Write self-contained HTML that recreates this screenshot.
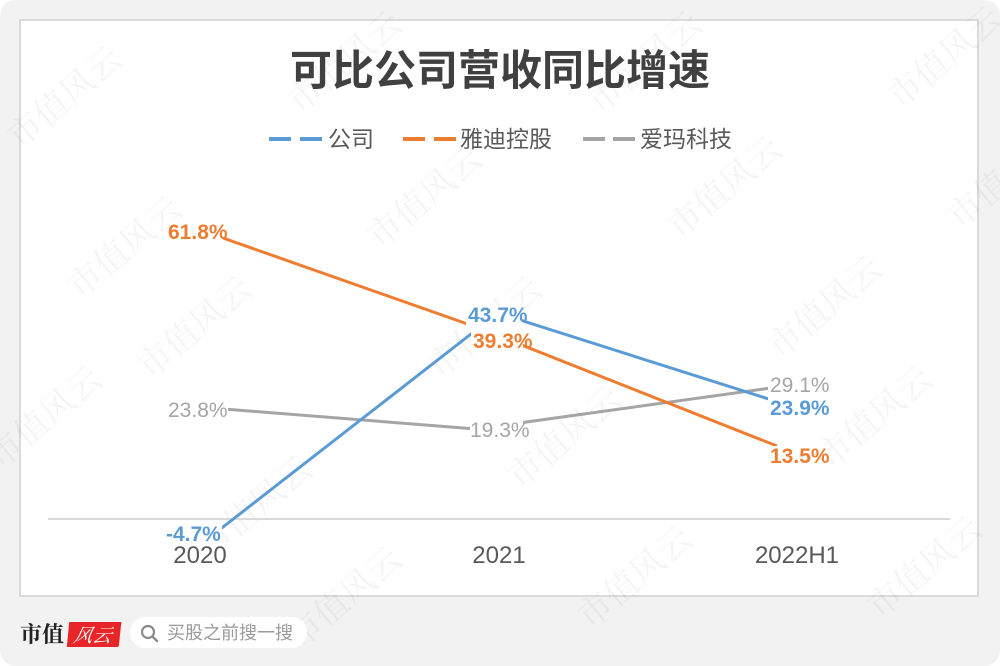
<!DOCTYPE html>
<html><head><meta charset="utf-8">
<style>
html,body{margin:0;padding:0;background:#fff;}
svg{display:block;}
</style></head>
<body>
<svg width="1000" height="666" viewBox="0 0 1000 666" xmlns="http://www.w3.org/2000/svg">
  <!-- outer panel -->
  <rect x="0" y="0" width="1000" height="666" rx="16" ry="16" fill="#f2f2f2"/>
  <!-- chart area -->
  <rect x="20" y="20" width="958" height="576" fill="#ffffff" stroke="#dadada" stroke-width="2"/>

  <!-- watermarks -->
  <g font-family="'Liberation Serif','Noto Serif CJK SC',serif" font-size="34" fill="#000" fill-opacity="0.045">
    <text transform="translate(20,150) rotate(-40)">市值风云</text>
    <text transform="translate(300,115) rotate(-40)">市值风云</text>
    <text transform="translate(600,115) rotate(-40)">市值风云</text>
    <text transform="translate(900,110) rotate(-40)">市值风云</text>
    <text transform="translate(80,300) rotate(-40)">市值风云</text>
    <text transform="translate(380,250) rotate(-40)">市值风云</text>
    <text transform="translate(680,240) rotate(-40)">市值风云</text>
    <text transform="translate(960,230) rotate(-40)">市值风云</text>
    <text transform="translate(150,380) rotate(-40)">市值风云</text>
    <text transform="translate(440,380) rotate(-40)">市值风云</text>
    <text transform="translate(780,360) rotate(-40)">市值风云</text>
    <text transform="translate(0,470) rotate(-40)">市值风云</text>
    <text transform="translate(210,560) rotate(-40)">市值风云</text>
    <text transform="translate(520,490) rotate(-40)">市值风云</text>
    <text transform="translate(830,470) rotate(-40)">市值风云</text>
    <text transform="translate(300,650) rotate(-40)">市值风云</text>
    <text transform="translate(590,630) rotate(-40)">市值风云</text>
    <text transform="translate(880,620) rotate(-40)">市值风云</text>
  </g>

  <!-- title -->
  <text x="500" y="85" text-anchor="middle" font-family="'Liberation Sans','Noto Sans CJK SC',sans-serif" font-size="42" font-weight="700" fill="#404040">可比公司营收同比增速</text>

  <!-- legend -->
  <g stroke-width="4">
    <line x1="269" y1="139" x2="291" y2="139" stroke="#5b9bd5"/>
    <line x1="300" y1="139" x2="322" y2="139" stroke="#5b9bd5"/>
    <line x1="403" y1="139" x2="425" y2="139" stroke="#ed7d31"/>
    <line x1="434" y1="139" x2="456" y2="139" stroke="#ed7d31"/>
    <line x1="583" y1="139" x2="605" y2="139" stroke="#a5a5a5"/>
    <line x1="613" y1="139" x2="635" y2="139" stroke="#a5a5a5"/>
  </g>
  <g font-family="'Liberation Sans','Noto Sans CJK SC',sans-serif" font-size="23" fill="#595959">
    <text x="328" y="147">公司</text>
    <text x="460" y="147">雅迪控股</text>
    <text x="640" y="147">爱玛科技</text>
  </g>

  <!-- axis -->
  <line x1="48" y1="519" x2="950" y2="519" stroke="#d9d9d9" stroke-width="2"/>

  <!-- series -->
  <polyline points="224,409 476,429 778,387" fill="none" stroke="#a5a5a5" stroke-width="3" stroke-linejoin="round"/>
  <polyline points="223,238 476,327 777,446" fill="none" stroke="#ed7d31" stroke-width="3" stroke-linejoin="round"/>
  <polyline points="214,534 498,313 775,401" fill="none" stroke="#5b9bd5" stroke-width="3" stroke-linejoin="round"/>

  <!-- label backgrounds -->
  <g fill="#ffffff">
    <rect x="164" y="221" width="59" height="22"/>
    <rect x="164" y="398" width="64" height="23"/>
    <rect x="162" y="524" width="60" height="22"/>
    <rect x="466" y="304" width="56" height="24"/>
    <rect x="471" y="328" width="52" height="24"/>
    <rect x="470" y="418" width="53" height="23"/>
    <rect x="768" y="373" width="62" height="23"/>
    <rect x="768" y="397" width="62" height="22"/>
    <rect x="768" y="446" width="62" height="21"/>
  </g>

  <!-- data labels -->
  <g font-family="'Liberation Sans',sans-serif" font-size="21">
    <text x="168" y="239" fill="#ed7d31" font-weight="700">61.8%</text>
    <text x="473" y="348" fill="#ed7d31" font-weight="700">39.3%</text>
    <text x="770" y="463" fill="#ed7d31" font-weight="700">13.5%</text>
    <text x="166" y="541" fill="#5b9bd5" font-weight="700">-4.7%</text>
    <text x="468" y="322" fill="#5b9bd5" font-weight="700">43.7%</text>
    <text x="770" y="415" fill="#5b9bd5" font-weight="700">23.9%</text>
    <text x="168" y="417" fill="#a5a5a5">23.8%</text>
    <text x="470" y="437" fill="#a5a5a5">19.3%</text>
    <text x="770" y="392" fill="#a5a5a5">29.1%</text>
  </g>

  <!-- category labels -->
  <g font-family="'Liberation Sans',sans-serif" font-size="24" fill="#595959" text-anchor="middle">
    <text x="200" y="563">2020</text>
    <text x="499" y="563">2021</text>
    <text x="797" y="563">2022H1</text>
  </g>

  <!-- footer -->
  <text x="20" y="642" font-family="'Liberation Serif','Noto Serif CJK SC',serif" font-size="22" font-weight="700" fill="#222">市值</text>
  <path d="M70,622 L121,622 Q122,622 121,625 L119,645 Q119,647 117,647 L68,647 Q66,647 67,645 L69,624 Q69,622 70,622 Z" fill="#e8262a"/>
  <text x="94" y="642" text-anchor="middle" font-family="'Noto Serif CJK SC',serif" font-size="19" fill="#ffffff" font-style="italic" transform="skewX(-12) translate(134,0)">风云</text>
  <rect x="130" y="617" width="177" height="31" rx="15.5" ry="15.5" fill="#ffffff"/>
  <circle cx="148" cy="632" r="6" fill="none" stroke="#8a8a8a" stroke-width="2.2"/>
  <line x1="152.5" y1="636.5" x2="157" y2="641" stroke="#8a8a8a" stroke-width="2.4" stroke-linecap="round"/>
  <text x="167" y="639" font-family="'Liberation Sans','Noto Sans CJK SC',sans-serif" font-size="18" fill="#9a9a9a">买股之前搜一搜</text>
</svg>
</body></html>
